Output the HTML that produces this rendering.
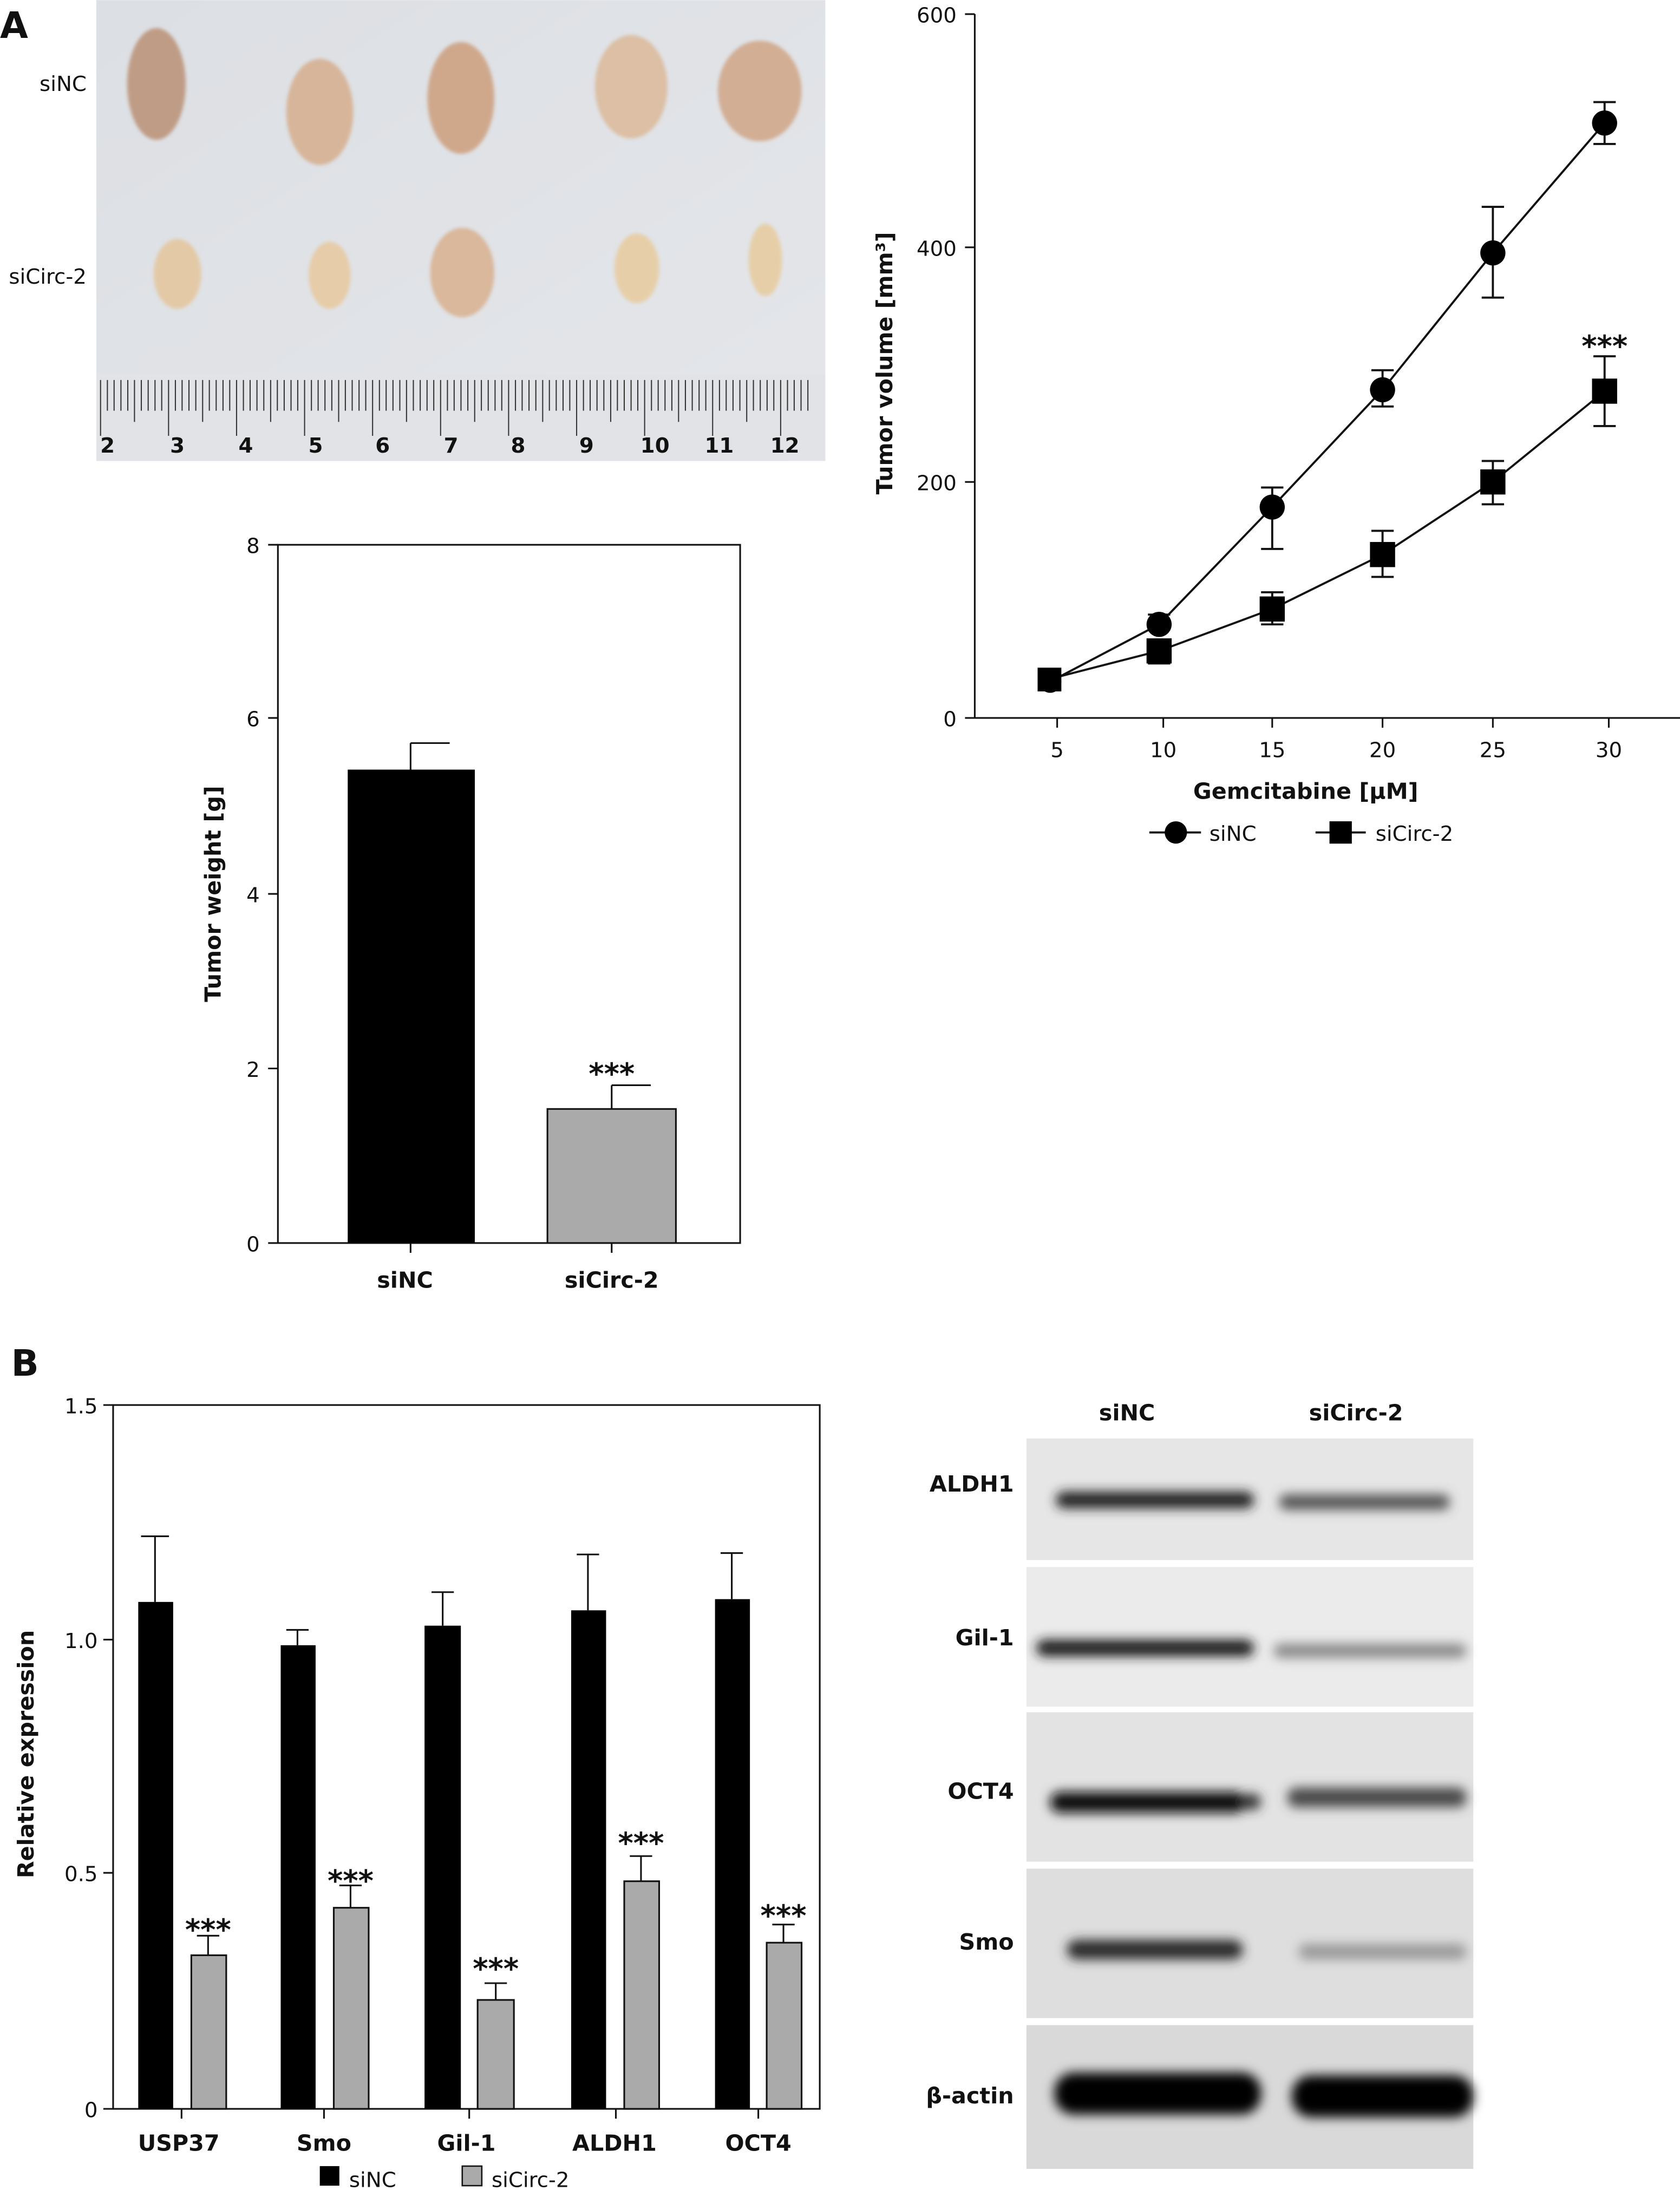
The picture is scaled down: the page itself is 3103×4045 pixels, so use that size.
<!DOCTYPE html>
<html><head><meta charset="utf-8"><style>
html,body{margin:0;padding:0;background:#fff;}
svg{display:block;}
text{font-family:"DejaVu Sans","Liberation Sans",sans-serif;fill:#111;}
.t{font-size:15px;}
.b{font-size:16px;font-weight:bold;}
</style></head><body>
<svg width="3103" height="4045" viewBox="0 0 1203 1568" xmlns="http://www.w3.org/2000/svg">
<defs>
<filter id="bl" x="-20%" y="-100%" width="140%" height="300%"><feGaussianBlur stdDeviation="4"/></filter>
<filter id="bl2"><feGaussianBlur stdDeviation="1.2"/></filter>
<linearGradient id="bg" x1="0" y1="0" x2="1" y2="1"><stop offset="0" stop-color="#dcdfe3"/><stop offset="1" stop-color="#e4e6ea"/></linearGradient>
</defs>
<!-- Panel A photo -->
<text x="0" y="27" style="font-size:26px;font-weight:bold">A</text>
<rect x="69" y="0" width="522" height="330" fill="url(#bg)"/>
<g filter="url(#bl2)">
<ellipse cx="112" cy="60" rx="21" ry="40" fill="#bf9c86"/>
<ellipse cx="229" cy="80" rx="24" ry="38" fill="#d7b59a"/>
<ellipse cx="330" cy="70" rx="24" ry="40" fill="#cfa88c"/>
<ellipse cx="452" cy="62" rx="26" ry="37" fill="#dcbfa4"/>
<ellipse cx="544" cy="65" rx="30" ry="36" fill="#d2ae94"/>
<ellipse cx="127" cy="196" rx="17" ry="25" fill="#e3c9a6"/>
<ellipse cx="236" cy="197" rx="15" ry="24" fill="#e6cca8"/>
<ellipse cx="331" cy="195" rx="23" ry="32" fill="#d9b89c"/>
<ellipse cx="456" cy="192" rx="16" ry="25" fill="#e6cfa8"/>
<ellipse cx="548" cy="186" rx="12" ry="26" fill="#e6cfa8"/>
</g>
<text x="62" y="65" class="t" text-anchor="end">siNC</text>
<text x="62" y="203" class="t" text-anchor="end">siCirc-2</text>
<rect x="69" y="268" width="522" height="62" fill="#e2e3e6"/>
<g stroke="#333" stroke-width="0.8" id="ruler"></g>
<g font-weight="bold" style="font-size:15px" text-anchor="middle">
<text x="77" y="324">2</text><text x="127" y="324">3</text><text x="176" y="324">4</text><text x="226" y="324">5</text><text x="274" y="324">6</text><text x="323" y="324">7</text><text x="371" y="324">8</text><text x="420" y="324">9</text><text x="469" y="324">10</text><text x="515" y="324">11</text><text x="562" y="324">12</text>
</g>

<!-- Tumor weight bar chart -->
<rect x="199" y="390" width="331" height="500" fill="none" stroke="#111" stroke-width="1.2"/>
<g stroke="#111" stroke-width="1.2">
<line x1="192" y1="390" x2="199" y2="390"/><line x1="192" y1="514" x2="199" y2="514"/><line x1="192" y1="640" x2="199" y2="640"/><line x1="192" y1="765" x2="199" y2="765"/><line x1="192" y1="890" x2="199" y2="890"/>
<line x1="294" y1="890" x2="294" y2="897"/><line x1="438" y1="890" x2="438" y2="897"/>
</g>
<g class="t" text-anchor="end">
<text x="186" y="396" class="t">8</text><text x="186" y="520" class="t">6</text><text x="186" y="646" class="t">4</text><text x="186" y="771" class="t">2</text><text x="186" y="896" class="t">0</text>
</g>
<rect x="249" y="551" width="91" height="339" fill="#000"/>
<line x1="294" y1="551" x2="294" y2="532" stroke="#111" stroke-width="1.2"/><line x1="294" y1="532" x2="322" y2="532" stroke="#111" stroke-width="1.2"/>
<rect x="392" y="794" width="92" height="96" fill="#aaa" stroke="#111" stroke-width="1.2"/>
<line x1="438" y1="794" x2="438" y2="777" stroke="#111" stroke-width="1.2"/><line x1="438" y1="777" x2="466" y2="777" stroke="#111" stroke-width="1.2"/>
<text x="438" y="776" text-anchor="middle" style="font-size:21px;font-weight:bold">***</text>
<text x="290" y="922" text-anchor="middle" class="b">siNC</text>
<text x="438" y="922" text-anchor="middle" class="b">siCirc-2</text>
<text transform="translate(158,640) rotate(-90)" text-anchor="middle" class="b">Tumor weight [g]</text>

<!-- Tumor volume line chart -->
<g stroke="#111" stroke-width="1.2" fill="none">
<line x1="698" y1="10" x2="698" y2="514"/><line x1="698" y1="514" x2="1203" y2="514"/>
<line x1="691" y1="10" x2="698" y2="10"/><line x1="691" y1="177" x2="698" y2="177"/><line x1="691" y1="345" x2="698" y2="345"/><line x1="691" y1="514" x2="698" y2="514"/>
<line x1="757" y1="514" x2="757" y2="521"/><line x1="833" y1="514" x2="833" y2="521"/><line x1="911" y1="514" x2="911" y2="521"/><line x1="990" y1="514" x2="990" y2="521"/><line x1="1069" y1="514" x2="1069" y2="521"/><line x1="1152" y1="514" x2="1152" y2="521"/>
</g>
<g text-anchor="end"><text x="685" y="16" class="t">600</text><text x="685" y="183" class="t">400</text><text x="685" y="351" class="t">200</text><text x="685" y="520" class="t">0</text></g>
<g text-anchor="middle"><text x="757" y="542" class="t">5</text><text x="833" y="542" class="t">10</text><text x="911" y="542" class="t">15</text><text x="990" y="542" class="t">20</text><text x="1069" y="542" class="t">25</text><text x="1152" y="542" class="t">30</text></g>
<text x="935" y="572" text-anchor="middle" class="b">Gemcitabine [μM]</text>
<text transform="translate(639,260) rotate(-90)" text-anchor="middle" class="b">Tumor volume [mm³]</text>
<g stroke="#111" stroke-width="1.5" fill="none">
<polyline points="752,488 830,447 911,363 990,279 1069,181 1149,88"/>
<polyline points="752,486 830,466 911,436 990,397 1069,345 1149,280"/>
<path d="M911,349V393M903,349H919M903,393H919 M990,265V291M982,265H998M982,291H998 M1069,148V213M1061,148H1077M1061,213H1077 M1149,73V103M1141,73H1157M1141,103H1157 M830,440V455M822,440H838"/>
<path d="M911,424V447M903,424H919M903,447H919 M990,380V413M982,380H998M982,413H998 M1069,330V361M1061,330H1077M1061,361H1077 M1149,255V305M1141,255H1157M1141,305H1157 M830,458V475M822,458H838M822,475H838"/>
</g>
<g fill="#000">
<circle cx="752" cy="488" r="8"/><circle cx="830" cy="447" r="9"/><circle cx="911" cy="363" r="9"/><circle cx="990" cy="279" r="9"/><circle cx="1069" cy="181" r="9"/><circle cx="1149" cy="88" r="9"/>
<rect x="743" y="478" width="17" height="17"/><rect x="821" y="457" width="18" height="18"/><rect x="902" y="427" width="18" height="18"/><rect x="981" y="388" width="18" height="18"/><rect x="1060" y="336" width="18" height="18"/><rect x="1140" y="271" width="18" height="18"/>
</g>
<text x="1149" y="255" text-anchor="middle" style="font-size:21px;font-weight:bold">***</text>
<line x1="823" y1="596" x2="860" y2="596" stroke="#111" stroke-width="1.5"/><circle cx="842" cy="596" r="8"/>
<text x="866" y="602" class="t">siNC</text>
<line x1="942" y1="596" x2="978" y2="596" stroke="#111" stroke-width="1.5"/><rect x="952" y="588" width="16" height="16"/>
<text x="985" y="602" class="t">siCirc-2</text>

<!-- Panel B -->
<text x="8" y="985" style="font-size:26px;font-weight:bold">B</text>
<rect x="81" y="1006" width="506" height="504" fill="none" stroke="#111" stroke-width="1.2"/>
<g stroke="#111" stroke-width="1.2">
<line x1="74" y1="1006" x2="81" y2="1006"/><line x1="74" y1="1174" x2="81" y2="1174"/><line x1="74" y1="1341" x2="81" y2="1341"/><line x1="74" y1="1510" x2="81" y2="1510"/>
<line x1="130" y1="1510" x2="130" y2="1517"/><line x1="232" y1="1510" x2="232" y2="1517"/><line x1="336" y1="1510" x2="336" y2="1517"/><line x1="441" y1="1510" x2="441" y2="1517"/><line x1="543" y1="1510" x2="543" y2="1517"/>
</g>
<g text-anchor="end"><text x="70" y="1012" class="t">1.5</text><text x="70" y="1180" class="t">1.0</text><text x="70" y="1347" class="t">0.5</text><text x="70" y="1516" class="t">0</text></g>
<g fill="#000">
<rect x="99" y="1147" width="25" height="363"/><rect x="201" y="1178" width="25" height="332"/><rect x="304" y="1164" width="26" height="346"/><rect x="409" y="1153" width="25" height="357"/><rect x="512" y="1145" width="25" height="365"/>
</g>
<g fill="#aaa" stroke="#111" stroke-width="1.2">
<rect x="137" y="1400" width="25" height="110"/><rect x="239" y="1366" width="25" height="144"/><rect x="342" y="1432" width="26" height="78"/><rect x="447" y="1347" width="25" height="163"/><rect x="549" y="1391" width="25" height="119"/>
</g>
<g stroke="#111" stroke-width="1.2" fill="none">
<path d="M111,1147V1100M101,1100H121 M213,1178V1167M205,1167H221 M317,1164V1140M309,1140H325 M421,1153V1113M413,1113H429 M524,1145V1112M516,1112H532"/>
<path d="M149,1400V1386M141,1386H157 M251,1366V1350M243,1350H259 M355,1432V1420M347,1420H363 M459,1347V1329M451,1329H467 M561,1391V1378M553,1378H569"/>
</g>
<g text-anchor="middle" style="font-size:21px;font-weight:bold">
<text x="149" y="1389">***</text><text x="251" y="1354">***</text><text x="355" y="1417">***</text><text x="459" y="1327">***</text><text x="561" y="1379">***</text>
</g>
<g text-anchor="middle" class="b"><text x="128" y="1540" class="b">USP37</text><text x="232" y="1540" class="b">Smo</text><text x="334" y="1540" class="b">Gil-1</text><text x="440" y="1540" class="b">ALDH1</text><text x="543" y="1540" class="b">OCT4</text></g>
<rect x="229" y="1551" width="14" height="14" fill="#000"/><text x="250" y="1566" class="t">siNC</text>
<rect x="331" y="1551" width="14" height="14" fill="#aaa" stroke="#111"/><text x="352" y="1566" class="t">siCirc-2</text>
<text transform="translate(24,1256) rotate(-90)" text-anchor="middle" class="b">Relative expression</text>

<!-- Western blot -->
<text x="807" y="1017" text-anchor="middle" class="b">siNC</text>
<text x="971" y="1017" text-anchor="middle" class="b">siCirc-2</text>
<g fill="#e6e6e6">
<rect x="735" y="1030" width="320" height="87"/><rect x="735" y="1122" width="320" height="100" fill="#ebebeb"/><rect x="735" y="1226" width="320" height="107" fill="#e3e3e3"/><rect x="735" y="1338" width="320" height="107" fill="#dedede"/><rect x="735" y="1450" width="320" height="103" fill="#d9d9d9"/>
</g>
<g filter="url(#bl)">
<rect x="756" y="1068" width="142" height="12" rx="6" fill="#222"/><rect x="916" y="1070" width="122" height="11" rx="5" fill="#555"/>
<rect x="742" y="1174" width="156" height="12" rx="6" fill="#1e1e1e"/><rect x="912" y="1177" width="138" height="10" rx="5" fill="#888"/>
<rect x="752" y="1283" width="140" height="15" rx="7" fill="#111"/><ellipse cx="896" cy="1290" rx="7" ry="6" fill="#333"/><rect x="922" y="1280" width="128" height="14" rx="6" fill="#4a4a4a"/>
<rect x="764" y="1389" width="126" height="14" rx="7" fill="#2a2a2a"/><rect x="930" y="1392" width="120" height="11" rx="5" fill="#999"/>
<rect x="755" y="1484" width="148" height="30" rx="14" fill="#000"/><rect x="925" y="1486" width="130" height="30" rx="14" fill="#000"/>
</g>
<g text-anchor="end" class="b">
<text x="726" y="1068" class="b">ALDH1</text><text x="726" y="1178" class="b">Gil-1</text><text x="726" y="1288" class="b">OCT4</text><text x="726" y="1396" class="b">Smo</text><text x="726" y="1506" class="b">β-actin</text>
</g>
</svg>
<script>
var g=document.getElementById('ruler');var s='';
for(var i=0;i<=104;i++){var x=72+i*4.87;if(x>590)break;var h=(i%10==0)?40:(i%5==0)?30:22;
s+='<line x1="'+x.toFixed(1)+'" y1="272" x2="'+x.toFixed(1)+'" y2="'+(272+h)+'"/>';}
g.innerHTML=s;
</script>
</body></html>
